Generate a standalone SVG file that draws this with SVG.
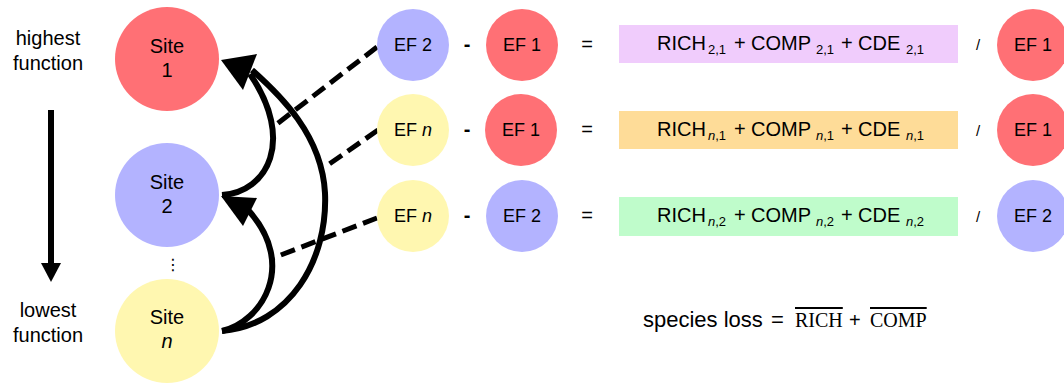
<svg xmlns="http://www.w3.org/2000/svg" width="1064" height="383" viewBox="0 0 1064 383">
<defs>
<style>
text{font-family:"Liberation Sans",Arial,sans-serif;fill:#000}
.lbl{font-size:20px;text-anchor:middle}
.ef{font-size:18px;text-anchor:middle}
.eq{font-size:20px}
.sub{font-size:13px}
.op{font-size:20px;text-anchor:middle}
.red{fill:#FF7075}
.blue{fill:#B3B3FF}
.yel{fill:#FFF7B0}
.curve{fill:none;stroke:#000;stroke-width:6}
.dash{fill:none;stroke:#000;stroke-width:5;stroke-dasharray:15 7}
.serif{font-family:"Liberation Serif","Times New Roman",serif}
</style>
</defs>
<rect width="1064" height="383" fill="#fff"/>

<g id="axis">
<text class="lbl" x="48" y="45">highest</text>
<text class="lbl" x="48" y="70">function</text>
<line x1="51" y1="110" x2="51" y2="265" stroke="#000" stroke-width="6"/>
<polygon points="41,263 61,263 51,282" fill="#000"/>
<text class="lbl" x="48" y="317">lowest</text>
<text class="lbl" x="48" y="342">function</text>
</g>

<g id="site1">
<circle class="red" cx="167" cy="59" r="52"/>
<text class="lbl" x="167" y="53">Site</text>
<text class="lbl" x="167" y="77">1</text>
</g>
<g id="site2">
<circle class="blue" cx="167" cy="195" r="52"/>
<text class="lbl" x="167" y="189">Site</text>
<text class="lbl" x="167" y="213">2</text>
</g>
<g id="dots">
<text x="173" y="270" style="font-family:'DejaVu Sans',sans-serif;font-size:16px;text-anchor:middle">⋮</text>
</g>
<g id="siten">
<circle class="yel" cx="167" cy="331" r="52"/>
<text class="lbl" x="167" y="324">Site</text>
<text class="lbl" x="167" y="348" font-style="italic">n</text>
</g>

<g id="connectors">
<path class="curve" d="M222,195 C268,192 295,140 250,74"/>
<path class="curve" d="M222,331 C290,325 328,260 325,193 C322,135 280,95 252,70"/>
<path class="curve" d="M222,331 C262,322 297,265 249,211"/>
<polygon points="221,60 257,54 243,90" fill="#000"/>
<polygon points="221,196 257,198 243,226" fill="#000"/>
<line class="dash" x1="377" y1="47" x2="273" y2="127"/>
<line class="dash" x1="378" y1="130" x2="325" y2="167"/>
<line class="dash" x1="377" y1="218" x2="273" y2="258"/>
</g>

<g id="row1">
<g id="ef2a"><circle class="blue" cx="413" cy="45" r="36"/><text class="ef" x="413" y="51">EF 2</text></g>
<text class="op" x="467" y="51" font-weight="bold">-</text>
<g id="ef1a"><circle class="red" cx="522" cy="45" r="36"/><text class="ef" x="522" y="51">EF 1</text></g>
<text class="op" x="587" y="51">=</text>
<g id="box1"><rect x="619" y="25" width="339" height="38" fill="#F0CCFC"/>
<text class="eq" y="50"><tspan x="657">RICH</tspan><tspan class="sub" x="708" dy="3.5">2,1</tspan><tspan x="734" dy="-3.5">+</tspan><tspan x="751">COMP</tspan><tspan class="sub" x="816" dy="3.5">2,1</tspan><tspan x="841" dy="-3.5">+</tspan><tspan x="858">CDE</tspan><tspan class="sub" x="906" dy="3.5">2,1</tspan></text></g>
<text x="978" y="50" style="font-size:15px;text-anchor:middle">/</text>
<g id="ef1b"><circle class="red" cx="1033" cy="45" r="36"/><text class="ef" x="1033" y="51">EF 1</text></g>
</g>

<g id="row2">
<g id="efna"><circle class="yel" cx="413" cy="130" r="36"/><text class="ef" x="413" y="136">EF <tspan font-style="italic">n</tspan></text></g>
<text class="op" x="467" y="136" font-weight="bold">-</text>
<g id="ef1c"><circle class="red" cx="521" cy="130" r="36"/><text class="ef" x="521" y="136">EF 1</text></g>
<text class="op" x="587" y="136">=</text>
<g id="box2"><rect x="619" y="111" width="339" height="38" fill="#FEDC98"/>
<text class="eq" y="136"><tspan x="657">RICH</tspan><tspan class="sub" x="708" dy="3.5"><tspan font-style="italic">n</tspan>,1</tspan><tspan x="734" dy="-3.5">+</tspan><tspan x="751">COMP</tspan><tspan class="sub" x="816" dy="3.5"><tspan font-style="italic">n</tspan>,1</tspan><tspan x="841" dy="-3.5">+</tspan><tspan x="858">CDE</tspan><tspan class="sub" x="906" dy="3.5"><tspan font-style="italic">n</tspan>,1</tspan></text></g>
<text x="978" y="136" style="font-size:15px;text-anchor:middle">/</text>
<g id="ef1d"><circle class="red" cx="1033" cy="130" r="36"/><text class="ef" x="1033" y="136">EF 1</text></g>
</g>

<g id="row3">
<g id="efnb"><circle class="yel" cx="413" cy="216" r="36"/><text class="ef" x="413" y="222">EF <tspan font-style="italic">n</tspan></text></g>
<text class="op" x="467" y="222" font-weight="bold">-</text>
<g id="ef2b"><circle class="blue" cx="522" cy="216" r="36"/><text class="ef" x="522" y="222">EF 2</text></g>
<text class="op" x="587" y="222">=</text>
<g id="box3"><rect x="619" y="197" width="339" height="39" fill="#BFFCCB"/>
<text class="eq" y="222"><tspan x="657">RICH</tspan><tspan class="sub" x="708" dy="3.5"><tspan font-style="italic">n</tspan>,2</tspan><tspan x="734" dy="-3.5">+</tspan><tspan x="751">COMP</tspan><tspan class="sub" x="816" dy="3.5"><tspan font-style="italic">n</tspan>,2</tspan><tspan x="841" dy="-3.5">+</tspan><tspan x="858">CDE</tspan><tspan class="sub" x="906" dy="3.5"><tspan font-style="italic">n</tspan>,2</tspan></text></g>
<text x="978" y="222" style="font-size:15px;text-anchor:middle">/</text>
<g id="ef2c"><circle class="blue" cx="1033" cy="216" r="36"/><text class="ef" x="1033" y="222">EF 2</text></g>
</g>

<g id="formula">
<text class="eq" y="327"><tspan x="643" style="font-size:22px">species loss</tspan><tspan x="771" style="font-size:22px">=</tspan><tspan class="serif" x="795" text-decoration="overline">RICH</tspan><tspan x="849">+</tspan><tspan class="serif" x="870" text-decoration="overline">COMP</tspan></text>
</g>
</svg>
